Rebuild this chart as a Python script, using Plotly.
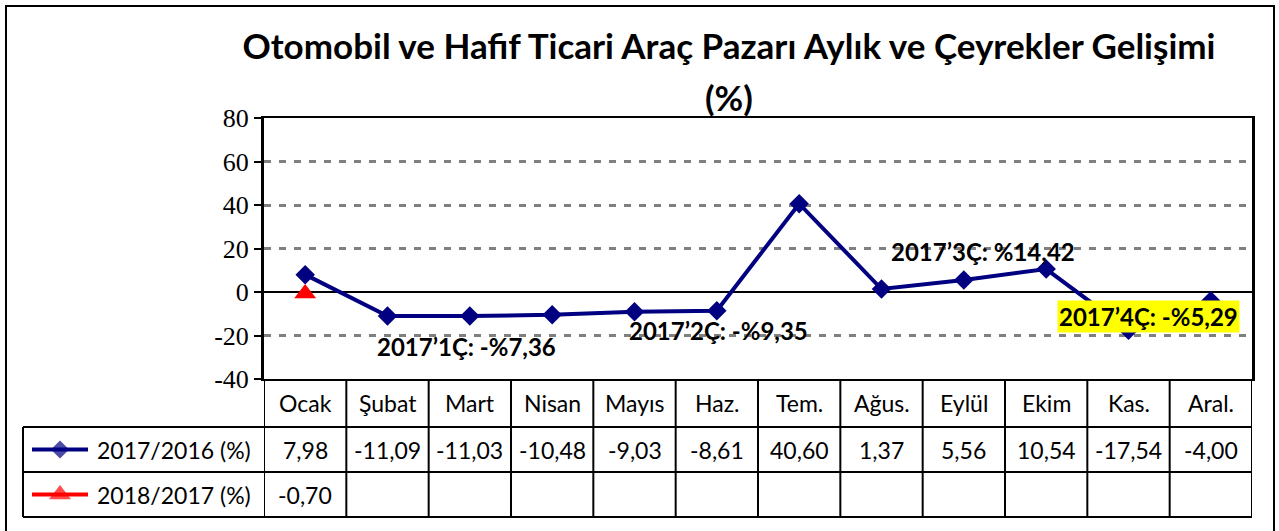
import plotly.graph_objects as go

# ---- data ----
months = ["Ocak", "Şubat", "Mart", "Nisan", "Mayıs", "Haz.", "Tem.", "Ağus.", "Eylül", "Ekim", "Kas.", "Aral."]
s2017_2016 = [7.98, -11.09, -11.03, -10.48, -9.03, -8.61, 40.60, 1.37, 5.56, 10.54, -17.54, -4.00]
s2018_2017 = [-0.70]
series_names = ["2017/2016 (%)", "2018/2017 (%)"]
quarter_labels = ["2017’1Ç: -%7,36", "2017’2Ç: -%9,35", "2017’3Ç: %14,42", "2017’4Ç: -%5,29"]
y_ticks = [-40, -20, 0, 20, 40, 60, 80]
title_line1 = "Otomobil ve Hafif Ticari Araç Pazarı Aylık ve Çeyrekler Gelişimi"
title_line2 = "(%)"

# ---- layout geometry (pixels) ----
W, H = 1279, 531
PL, PR, PT, PB = 264, 1252, 118, 379
ROWS = [379, 427, 472, 517]
LEGX = 23
NAVY = "#000080"
RED = "#FF0000"
FONT = "Lato"


def fx(px):
    return px / W


def fy(py):
    return 1 - py / H


def fmt(v):
    return f"{v:.2f}".replace(".", ",")


fig = go.Figure()

fig.add_trace(go.Scatter(
    x=months, y=s2017_2016, mode="lines+markers", name=series_names[0],
    line=dict(color=NAVY, width=4),
    marker=dict(symbol="diamond", size=15, color=NAVY, line=dict(width=0)),
    showlegend=False, xaxis="x", yaxis="y"))
fig.add_trace(go.Scatter(
    x=months[:len(s2018_2017)], y=s2018_2017, mode="lines+markers", name=series_names[1],
    line=dict(color=RED, width=4),
    marker=dict(symbol="triangle-up", size=19, color=RED, line=dict(width=0)),
    showlegend=False, xaxis="x", yaxis="y"))

# legend keys inside the table (pixel axis x2/y2)
row_centers = [(ROWS[i] + ROWS[i + 1]) / 2 for i in range(3)]
key_specs = [(NAVY, "diamond", 14), (RED, "triangle-up", 19)]
for k, (col, sym, sz) in enumerate(key_specs):
    yc = row_centers[k + 1]
    fig.add_trace(go.Scatter(
        x=[32, 60, 88], y=[yc, yc, yc], mode="lines+markers",
        line=dict(color=col, width=4),
        marker=dict(symbol=sym, size=[0, sz, 0], color=col, line=dict(width=0)),
        showlegend=False, hoverinfo="skip", xaxis="x2", yaxis="y2"))

shapes = []
# outer border
shapes.append(dict(type="rect", xref="x2", yref="y2", x0=6, x1=1274, y0=6, y1=540,
                   line=dict(color="black", width=2)))
# table horizontal lines
for yy in ROWS[1:]:
    shapes.append(dict(type="line", xref="x2", yref="y2", x0=LEGX, x1=PR, y0=yy, y1=yy,
                       line=dict(color="black", width=2)))
# left edge of legend column
shapes.append(dict(type="line", xref="x2", yref="y2", x0=LEGX, x1=LEGX, y0=ROWS[1], y1=ROWS[3],
                   line=dict(color="black", width=2)))
# month column separators
for i in range(len(months) + 1):
    shapes.append(dict(type="line", xref="x", yref="y2", x0=i - 0.5, x1=i - 0.5, y0=ROWS[0], y1=ROWS[3],
                       line=dict(color="black", width=2)))

annotations = []
cell_font = dict(family=FONT, size=23, color="black")
for i, m in enumerate(months):
    annotations.append(dict(x=m, xref="x", y=row_centers[0], yref="y2", text=m,
                            showarrow=False, font=cell_font))
for i, v in enumerate(s2017_2016):
    annotations.append(dict(x=months[i], xref="x", y=row_centers[1], yref="y2", text=fmt(v),
                            showarrow=False, font=cell_font))
for i, v in enumerate(s2018_2017):
    annotations.append(dict(x=months[i], xref="x", y=row_centers[2], yref="y2", text=fmt(v),
                            showarrow=False, font=cell_font))
for k, nm in enumerate(series_names):
    annotations.append(dict(x=95, xref="x2", y=row_centers[k + 1], yref="y2", text=nm,
                            xanchor="left", showarrow=False, font=cell_font))

# quarter labels
q_pos = [(466, 346), (718, 330), (983, 251), (1148, 316)]
for k, txt in enumerate(quarter_labels):
    annotations.append(dict(x=q_pos[k][0], y=q_pos[k][1], xref="x2", yref="y2", text=f"<b>{txt}</b>",
                            showarrow=False, font=dict(family=FONT, size=24, color="black"),
                            bgcolor="#FFFF00" if k == 3 else None, borderpad=1))

# title second line
annotations.append(dict(x=729, y=97, xref="x2", yref="y2", text=f"<b>{title_line2}</b>",
                        showarrow=False, font=dict(family=FONT, size=35, color="black")))

fig.update_layout(
    template="none",
    width=W, height=H, margin=dict(l=0, r=0, t=0, b=0, pad=0, autoexpand=False),
    paper_bgcolor="white", plot_bgcolor="rgba(0,0,0,0)",
    showlegend=False,
    title=dict(text=f"<b>{title_line1}</b>", x=729 / W, xanchor="center", y=fy(47), yanchor="middle",
               automargin=False, font=dict(family=FONT, size=35, color="black")),
    xaxis=dict(domain=[fx(PL), fx(PR)], type="category", range=[-0.5, 11.5],
               showticklabels=False, ticks="", showgrid=False, zeroline=False, automargin=False,
               showline=True, mirror=True, linecolor="black", linewidth=2, anchor="y"),
    yaxis=dict(domain=[fy(PB), fy(PT)], range=[-40, 80], tickvals=y_ticks, automargin=False,
               ticktext=[str(v) for v in y_ticks], ticks="outside", ticklen=7, tickwidth=2,
               tickcolor="black",
               tickfont=dict(family="Liberation Serif", size=26, color="black"),
               showgrid=True, gridcolor="#808080", gridwidth=2.5, griddash="7px,8px",
               zeroline=True, zerolinecolor="black", zerolinewidth=2,
               showline=True, mirror=True, linecolor="black", linewidth=3, anchor="x"),
    xaxis2=dict(domain=[0, 1], range=[0, W], visible=False, anchor="y2", fixedrange=True, automargin=False),
    yaxis2=dict(domain=[0, 1], range=[H, 0], visible=False, anchor="x2", fixedrange=True, automargin=False),
    shapes=shapes, annotations=annotations,
)

fig.write_html("out.html", config={"displayModeBar": False},
               post_script="document.body.style.margin='0px';")
